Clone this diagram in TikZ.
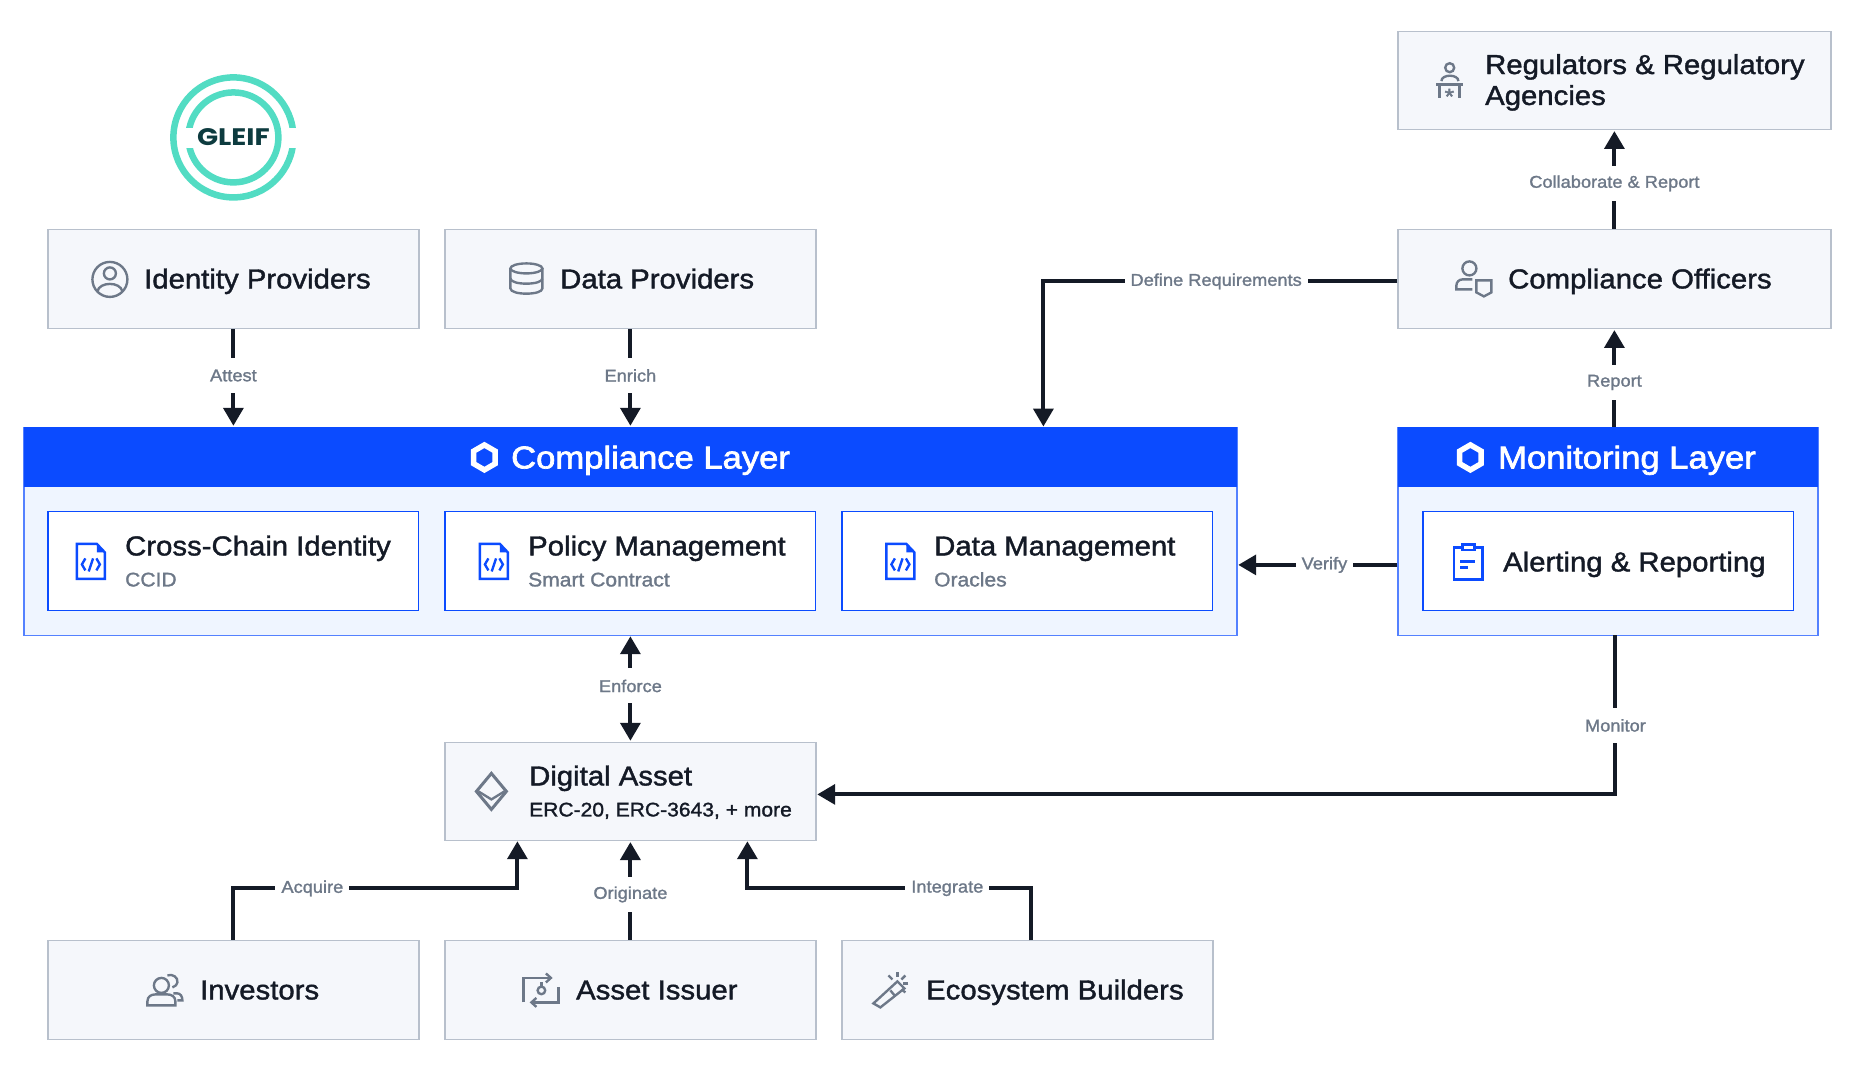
\documentclass[tikz,border=0pt]{standalone}
\usepackage{fontspec}
\usepackage{xcolor}
\usetikzlibrary{arrows.meta}
\setmainfont{Liberation Sans}
\newfontfamily\medfont{Liberation Sans}[FakeBold=1.4,FakeStretch=1.07]
\newfontfamily\semifont{Liberation Sans}[FakeBold=2.2,FakeStretch=1.10]
\newfontfamily\logofont{Poppins}[FakeStretch=1.16]
\definecolor{ink}{HTML}{141A26}
\definecolor{slate}{HTML}{6D7888}
\definecolor{edgegrey}{HTML}{B8C0CC}
\definecolor{paper}{HTML}{F5F7FB}
\definecolor{linkblue}{HTML}{0B4BFF}
\definecolor{paleblue}{HTML}{EFF5FF}
\definecolor{teal}{HTML}{52DCC3}
\definecolor{logoink}{HTML}{0D3B3F}

\begin{document}
\begin{tikzpicture}[
		x=0.02cm, y=-0.02cm,
		gbox/.style args = {#1/#2}{%
			rectangle, draw=edgegrey, line width=0.9pt, fill=paper, inner sep=0pt,
			minimum width=#1*0.02cm, minimum height=#2*0.02cm},
		wbox/.style = {%
			rectangle, draw=linkblue, line width=0.7pt, fill=white, inner sep=0pt,
			minimum width=7.42cm, minimum height=1.98cm},
		lyr/.style args = {#1/#2}{%
			rectangle, draw=linkblue!70!white, line width=0.9pt, fill=paleblue, inner sep=0pt,
			minimum width=#1*0.02cm, minimum height=#2*0.02cm},
		hdr/.style args = {#1/#2}{%
			rectangle, fill=linkblue, inner sep=0pt,
			minimum width=#1*0.02cm, minimum height=#2*0.02cm},
		ttl/.style = {anchor=base west, xshift=-0.9pt, inner sep=0pt, text=ink, font=\medfont\fontsize{15.6}{17.6}\selectfont},
		htl/.style = {anchor=base west, xshift=-0.9pt, inner sep=0pt, text=white, font=\semifont\fontsize{17.9}{20}\selectfont},
		sub/.style = {anchor=base west, xshift=-0.9pt, inner sep=0pt, text=slate, font=\medfont\fontsize{11.2}{13}\selectfont},
		lab/.style = {fill=white, inner xsep=3.4pt, inner ysep=0pt, minimum height=0.7cm, text=slate,
			font=\medfont\fontsize{9.7}{12}\selectfont},
		conn/.style = {draw=ink, line width=2.2pt, shorten >=0.5pt,
			-{Triangle[width=11.3pt,length=10.2pt]}},
		ico/.style = {draw=slate, line width=1.35pt},
		bico/.style = {draw=linkblue, line width=1.35pt},
		filedoc/.pic = {
			\draw[bico] (-14,-17.5) -- (6,-17.5) -- (14,-9) -- (14,17.5) -- (-14,17.5) -- cycle;
			\fill[linkblue] (6,-17.5) -- (14,-9) -- (6,-9) -- cycle;
			\draw[bico] (-5.5,-3) -- (-9,3) -- (-5.5,9);
			\draw[bico] (5.5,-3) -- (9,3) -- (5.5,9);
			\draw[bico] (2.2,-3) -- (-2.2,10);
		},
		hexa/.pic = {
			\draw[white, line width=3.1pt] (0,-12.5) -- (10.8,-6.25) -- (10.8,6.25) -- (0,12.5) -- (-10.8,6.25) -- (-10.8,-6.25) -- cycle;
		}
		]
		\useasboundingbox (-0.4,-0.4) rectangle (1859.6,1075.6);
		\node (idp) [gbox=371/99] at (233,278.5) {};
		\node (dp) [gbox=371/99] at (630,278.5) {};
		\node (reg) [gbox=433/98] at (1614,80) {};
		\node (co) [gbox=433/99] at (1614,278.5) {};
		\node (cl) [lyr=1213/208] at (630,531) {};
		\node (clh) [hdr=1213/60] at (630,457) {};
		\node (ml) [lyr=420/208] at (1607.5,531) {};
		\node (mlh) [hdr=420/60] at (1607.5,457) {};
		\node (ccid) [wbox] at (233,560.5) {};
		\node (pm) [wbox] at (630,560.5) {};
		\node (dm) [wbox] at (1027,560.5) {};
		\node (ar) [wbox] at (1608,560.5) {};
		\node (da) [gbox=371/98] at (630,791) {};
		\node (inv) [gbox=371/99] at (233,989.5) {};
		\node (ai) [gbox=371/99] at (630,989.5) {};
		\node (eb) [gbox=371/99] at (1027,989.5) {};
		\node (t1) [ttl] at (145,288) {Identity Providers};
		\node (t2) [ttl] at (561,288) {Data Providers};
		\node (t3) [ttl, anchor=west, align=left] at (1486,82) {Regulators \& Regulatory\\Agencies};
		\node (t4) [ttl] at (1509,288) {Compliance Officers};
		\node (t5) [htl] at (512,468) {Compliance Layer};
		\node (t6) [htl] at (1499,468) {Monitoring Layer};
		\node (t7) [ttl] at (126,555) {Cross-Chain Identity};
		\node (t8) [sub] at (126,586) {CCID};
		\node (t9) [ttl] at (529,555) {Policy Management};
		\node (t10) [sub] at (529,586) {Smart Contract};
		\node (t11) [ttl] at (935,555) {Data Management};
		\node (t12) [sub] at (935,586) {Oracles};
		\node (t13) [ttl] at (1504,571) {Alerting \& Reporting};
		\node (t14) [ttl] at (530,785) {Digital Asset};
		\node (t15) [sub, text=ink] at (530,816) {ERC-20, ERC-3643, + more};
		\node (t16) [ttl] at (201,999) {Investors};
		\node (t17) [ttl] at (577,999) {Asset Issuer};
		\node (t18) [ttl] at (927,999) {Ecosystem Builders};
		% logo
		\draw[teal, line width=3.7pt] (233,137) circle (60);
		\draw[teal, line width=3.7pt] (233,137) circle (45);
		\fill[white] (282.5,127.7) rectangle (298,147.3);
		\fill[white] (182,127.7) rectangle (195,147.3);
		\node (logo) [inner sep=0pt, text=logoink, font=\logofont\bfseries\fontsize{13.6}{16}\selectfont] at (233,137) {GLEIF};
		% layer and file icons
		\pic at (484,457) {hexa};
		\pic at (1470,457) {hexa};
		\foreach \x in {90.5,493.5,900}
			\pic at (\x,561) {filedoc};
		\draw[bico] (1453.5,547) rectangle (1482,579);
		\draw[bico, fill=white] (1462,544) rectangle (1474,549.5);
		\draw[bico] (1460,561) -- (1475,561);
		\draw[bico] (1460,567) -- (1468,567);
		% identity
		\draw[ico] (109.5,279) circle (17.5);
		\draw[ico] (109.5,273) circle (6);
		\draw[ico] (97,291) .. controls (99,281) and (120,281) .. (122,291);
		% data
		\draw[ico] (526,268) ellipse (16 and 5);
		\draw[ico] (510,268) -- (510,288) .. controls (510,295) and (542,295) .. (542,288) -- (542,268);
		\draw[ico] (510,278) .. controls (510,285) and (542,285) .. (542,278);
		% regulators
		\draw[ico] (1449.3,67.3) circle (4.5);
		\draw[ico] (1441,80.7) .. controls (1441,73.5) and (1458,73.5) .. (1458,80.7);
		\draw[ico] (1436,84) -- (1463,84);
		\draw[ico] (1439,84) -- (1439,98);
		\draw[ico] (1459,84) -- (1459,98);
		\node (star) [inner sep=0pt, text=slate, font=\semifont\fontsize{12.5}{12}\selectfont] at (1449,96) {*};
		% officers
		\draw[ico] (1469,268) circle (7);
		\draw[ico] (1472,279) -- (1462,279) arc (270:180:6) -- (1456,289) -- (1472,289);
		\draw[ico] (1476,280) -- (1491,280) -- (1491,292) -- (1483.5,296) -- (1476,292) -- cycle;
		% asset
		\draw[ico, line width=1.7pt] (491,773) -- (506,791) -- (491,809) -- (476,791) -- cycle;
		\draw[ico] (478,791) -- (491,799) -- (504,791);
		% investors
		\draw[ico] (161,985) circle (7.5);
		\draw[ico] (147,1005) -- (147,1001) .. controls (147,996) and (151,994) .. (155,994) -- (167,994) .. controls (171,994) and (175,996) .. (175,1001) -- (175,1005) -- cycle;
		\draw[ico] (167,975) .. controls (172,973) and (178,977) .. (177,982) .. controls (177,984) and (175,986) .. (172,987);
		\draw[ico] (173,993) -- (177,993) .. controls (180,993) and (182,996) .. (182,1000) -- (177,1000);
		% issuer
		\draw[ico] (523,1002) -- (523,977.5) -- (550,977.5);
		\draw[ico] (545.5,973) -- (550.5,977.5) -- (545.5,982);
		\draw[ico] (558,987) -- (558,1002) -- (531,1002);
		\draw[ico] (536,997.5) -- (531,1002) -- (536,1006.5);
		\draw[ico] (541,990) circle (3.8);
		\draw[ico] (541,986) -- (541,982);
		% builders
		\draw[ico] (873,1003) -- (897,981) -- (904,988) -- (880,1007) -- cycle;
		\draw[ico] (890,990) -- (895,996);
		\draw[ico] (897,972) -- (897,977);
		\draw[ico] (888,975) -- (892,979);
		\draw[ico] (905,975) -- (901,979);
		\draw[ico] (908,983) -- (903,983);
		\draw[ico] (905,992) -- (901,989);
		% connectors
		\coordinate (idp-s) at (idp |- cl.north);
		\coordinate (dp-s) at (dp |- cl.north);
		\coordinate (ml-n) at (co |- ml.north);
		\coordinate (ml-w) at (1397,564.5);
		\coordinate (cl-e) at (1237,564.5);
		\coordinate (cl-s) at (630,635);
		\coordinate (co-w) at (1397,281);
		\coordinate (cl-n) at (1043,427);
		\coordinate (ml-s) at (1615,635);
		\coordinate (da-e) at (816,794);
		\coordinate (bend1) at (517,888);
		\coordinate (da-s1) at (517,840);
		\coordinate (eb-n) at (1031,940);
		\coordinate (bend2) at (747,888);
		\coordinate (da-s2) at (747,840);
		\foreach \from/\to/\txt/\where in {idp/idp-s/Attest/.475, dp/dp-s/Enrich/.475, co/reg/Collaborate \& Report/.46, ml-n/co/Report/.453, ml-w/cl-e/Verify/.456, ai/da/Originate/.459}
		\draw[conn] (\from) -- node[lab, pos=\where] {\txt} (\to);
		\draw[conn, {Triangle[width=11.3pt,length=10.2pt]}-{Triangle[width=11.3pt,length=10.2pt]}, shorten <=0.5pt] (cl-s) -- node[lab, pos=.476] {Enforce} (da);
		\draw[conn] (co-w) -| node[lab, pos=.256] {Define Requirements} (cl-n);
		\draw[conn] (ml-s) |- node[lab, pos=.283] {Monitor} (da-e);
		\draw[conn] (inv) |- node[lab, pos=.639] {Acquire} (bend1) -- (da-s1);
		\draw[conn] (eb-n) |- node[lab, pos=.648] {Integrate} (bend2) -- (da-s2);
	\end{tikzpicture}
\end{document}
